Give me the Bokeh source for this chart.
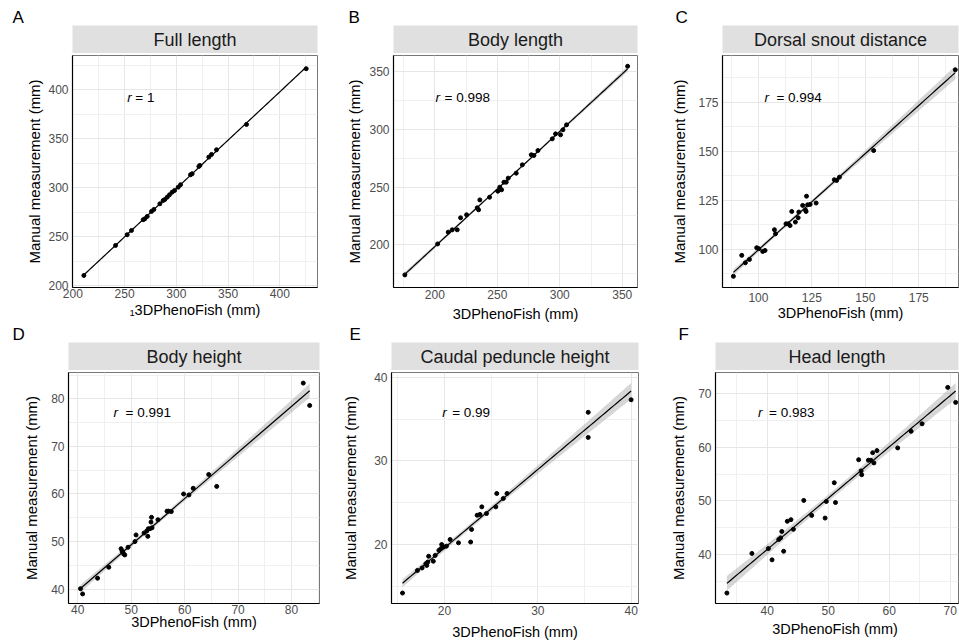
import numpy as np
from bokeh.plotting import figure
from bokeh.layouts import column, row
from bokeh.models import FixedTicker, Range1d, Label
from bokeh.core.properties import value
from bokeh.embed import file_html
from bokeh.resources import INLINE

FONT = "Liberation Sans"

# ---------------- data ----------------
panel_letters = ["A", "B", "C", "D", "E", "F"]
panel_titles = ["Full length", "Body length", "Dorsal snout distance",
                "Body height", "Caudal peduncle height", "Head length"]
r_values = ["1", "0.998", "0.994", "0.991", "0.99", "0.983"]
x_titles = ["\u20813DPhenoFish (mm)", "3DPhenoFish (mm)", "3DPhenoFish (mm)",
            "3DPhenoFish (mm)", "3DPhenoFish (mm)", "3DPhenoFish  (mm)"]
y_title = "Manual measurement (mm)"

full_x = [210.7, 241.3, 252.5, 256.7, 268.0, 269.6, 271.9, 276.0, 278.3, 284.1, 287.3, 288.9,
          291.2, 293.4, 296.0, 298.3, 301.8, 304.1, 313.7, 315.3, 321.8, 322.7, 331.4, 334.0,
          338.8, 367.8, 425.5]
full_y = [210.3, 241.0, 251.9, 256.3, 267.2, 268.2, 270.6, 275.7, 277.7, 283.5, 286.9, 287.9,
          290.3, 292.7, 295.4, 297.1, 300.5, 303.0, 313.2, 314.2, 321.7, 322.7, 331.2, 333.9,
          338.7, 364.6, 421.5]

body_x = [176.0, 202.2, 210.7, 213.9, 217.9, 220.6, 225.4, 233.9, 235.0, 236.0, 243.8, 250.4,
          252.0, 253.4, 255.3, 257.1, 258.7, 265.1, 270.0, 277.2, 279.3, 282.5, 294.0, 296.6,
          300.6, 302.5, 305.4, 354.3]
body_y = [174.0, 200.8, 211.0, 213.0, 213.0, 223.4, 226.0, 232.0, 230.3, 238.9, 241.2, 246.4,
          249.9, 247.6, 254.2, 254.2, 257.7, 262.0, 269.2, 277.9, 277.3, 281.6, 291.7, 296.0,
          295.2, 299.5, 303.8, 354.5]

snout_x = [88.3, 92.2, 93.9, 95.8, 99.2, 100.2, 102.0, 103.1, 107.5, 108.0, 112.9, 114.0,
           114.8, 115.6, 117.3, 118.6, 118.9, 120.7, 122.0, 122.3, 122.5, 123.0, 124.2, 127.0,
           135.5, 136.6, 137.9, 153.9, 192.1]
snout_y = [86.1, 96.8, 93.0, 94.7, 100.7, 100.2, 98.8, 99.3, 109.9, 107.8, 112.9, 112.9,
           112.0, 119.2, 113.8, 116.0, 118.9, 122.3, 120.0, 119.2, 127.0, 122.6, 122.8, 123.5,
           135.4, 135.0, 136.7, 150.3, 191.5]

height_x = [40.5, 40.9, 43.7, 45.8, 48.1, 48.3, 48.4, 48.6, 48.8, 49.4, 50.7, 50.9, 52.4, 52.9,
            53.1, 53.2, 53.5, 53.7, 53.8, 53.9, 55.0, 56.7, 57.0, 57.5, 59.8, 60.8, 61.6, 64.5,
            66.0, 82.2, 83.4]
height_y = [40.1, 39.0, 42.3, 44.6, 48.5, 48.0, 47.8, 47.4, 47.2, 48.8, 50.0, 51.4, 51.8, 52.2,
            51.1, 52.7, 52.7, 54.1, 55.1, 52.9, 54.6, 56.4, 56.4, 56.3, 60.0, 59.8, 61.2, 64.1,
            61.6, 83.3, 78.6]

caudal_x = [15.5, 17.1, 17.6, 18.0, 18.1, 18.3, 18.2, 18.8, 19.0, 19.4, 19.6, 19.7, 19.9, 20.2,
            20.6, 21.5, 22.8, 22.9, 23.5, 23.8, 24.0, 24.5, 25.5, 25.6, 26.3, 26.7, 35.4, 35.4,
            40.0]
caudal_y = [14.2, 16.9, 17.2, 17.7, 17.5, 18.6, 17.9, 18.0, 18.7, 19.3, 19.5, 20.0, 19.7, 19.8,
            20.6, 20.2, 20.3, 21.8, 23.5, 23.6, 24.5, 23.7, 24.5, 26.1, 25.5, 26.1, 35.8, 32.8,
            37.3]

head_x = [33.4, 37.5, 40.2, 40.8, 41.9, 42.2, 42.4, 42.7, 43.3, 43.9, 44.3, 46.0, 47.3, 49.5,
          49.7, 51.0, 51.2, 55.0, 55.4, 55.5, 56.6, 57.0, 57.3, 57.5, 58.0, 61.4, 63.6, 65.4,
          69.6, 70.9]
head_y = [32.8, 40.2, 41.1, 39.0, 42.8, 43.1, 44.3, 40.6, 46.2, 46.5, 44.7, 50.1, 47.3, 46.8,
          49.9, 53.4, 49.7, 57.7, 55.6, 54.9, 57.6, 57.6, 59.0, 57.1, 59.4, 59.9, 63.0, 64.4,
          71.2, 68.4]

series_x = [full_x, body_x, snout_x, height_x, caudal_x, head_x]
series_y = [full_y, body_y, snout_y, height_y, caudal_y, head_y]

x_ticks = [[200, 250, 300, 350, 400], [200, 250, 300, 350], [100, 125, 150, 175],
           [40, 50, 60, 70, 80], [20, 30, 40], [40, 50, 60, 70]]
y_ticks = [[200, 250, 300, 350, 400], [200, 250, 300, 350], [100, 125, 150, 175],
           [40, 50, 60, 70, 80], [20, 30, 40], [40, 50, 60, 70]]
x_minor = [[225, 275, 325, 375, 425], [175, 225, 275, 325], [87.5, 112.5, 137.5, 162.5, 187.5],
           [45, 55, 65, 75, 85], [15, 25, 35], [35, 45, 55, 65]]
y_minor = [[225, 275, 325, 375, 425], [175, 225, 275, 325], [87.5, 112.5, 137.5, 162.5, 187.5],
           [45, 55, 65, 75, 85], [15, 25, 35], [35, 45, 55, 65, 75]]

# ---------------- layout / style (not data) ----------------
x_ranges = [(199.7, 436.4), (166.9, 362.2), (83.2, 193.6), (38.26, 85.24), (14.32, 40.79), (31.53, 71.37)]
y_ranges = [(198.0, 435.0), (163.1, 363.8), (80.4, 198.8), (36.99, 85.53), (12.95, 40.56), (30.85, 73.98)]
r_pos = [(252.6, 392.4), (200.6, 327.7), (102.8, 177.5), (46.7, 77.2), (19.75, 35.8), (38.5, 66.6)]
r_gap = [8, 9, 12, 12, 10, 11]
cell_w = [320, 319, 320, 320, 319, 320]
frame_l = [72, 73, 83, 68, 71, 76]
frame_r = [3, 2, 1, 1, 1, 1]
letter_x = [12, 28, 36, 12, 29, 39]
xlab_standoff = [0, 1, 4, 0, 1, 1]
xtitle_standoff = [1, 4, 0, -3, 6, 3]
ytitle_standoff = [2, 3, 7, 8, 12, 8]

strip_h = [53, 46]       # strip figure heights (row 1, row 2)
strip_top = [25, 18]     # space above the grey strip
main_h = [271, 273]
main_bottom = [37, 40]


def fit(x, y):
    x = np.asarray(x, float)
    y = np.asarray(y, float)
    n = len(x)
    b, a = np.polyfit(x, y, 1)
    xs = np.linspace(x.min(), x.max(), 80)
    yhat = a + b * xs
    resid = y - (a + b * x)
    s = np.sqrt(np.sum(resid ** 2) / (n - 2))
    sxx = np.sum((x - x.mean()) ** 2)
    se = s * np.sqrt(1.0 / n + (xs - x.mean()) ** 2 / sxx)
    nu = n - 2
    z = 1.959964
    t = z + (z ** 3 + z) / (4 * nu) + (5 * z ** 5 + 16 * z ** 3 + 3 * z) / (96 * nu ** 2)
    return xs, yhat, yhat - t * se, yhat + t * se


panels = []
for i in range(6):
    r_i = 0 if i < 3 else 1
    w = cell_w[i]
    s = figure(width=w, height=strip_h[r_i], x_range=Range1d(0, 1), y_range=Range1d(0, 1),
               title=panel_letters[i],
               toolbar_location=None, output_backend="svg", x_axis_location=None,
               y_axis_location=None, min_border_left=frame_l[i], min_border_right=frame_r[i],
               min_border_top=strip_top[r_i], min_border_bottom=0)
    s.title.align = "left"
    s.title.offset = letter_x[i] - frame_l[i]
    s.title.standoff = -3
    s.title.text_font = FONT
    s.title.text_font_size = "17px"
    s.title.text_font_style = "normal"
    s.title.text_color = "black"
    s.grid.visible = False
    s.background_fill_color = "#e0e0e0"
    s.outline_line_color = None
    s.border_fill_color = "white"
    s.text(x=[0.5], y=[0.47], text=[panel_titles[i]], text_align="center", text_baseline="middle",
           text_font=value(FONT), text_font_size="18px", text_color="#1a1a1a")

    p = figure(width=w, height=main_h[r_i], x_range=Range1d(*x_ranges[i]),
               y_range=Range1d(*y_ranges[i]), toolbar_location=None, output_backend="svg",
               min_border_left=frame_l[i], min_border_right=frame_r[i], min_border_top=2,
               min_border_bottom=main_bottom[r_i])
    p.outline_line_color = "#777777"
    p.background_fill_color = "white"
    p.xaxis.ticker = FixedTicker(ticks=x_ticks[i], minor_ticks=x_minor[i])
    p.yaxis.ticker = FixedTicker(ticks=y_ticks[i], minor_ticks=y_minor[i])
    p.xaxis.axis_label = x_titles[i]
    p.yaxis.axis_label = y_title
    for ax in (p.xaxis, p.yaxis):
        ax.axis_line_color = "black"
        ax.axis_line_width = 1.2
        ax.major_tick_line_color = None
        ax.minor_tick_line_color = None
        ax.major_tick_in = 0
        ax.major_tick_out = 1
        ax.minor_tick_in = 0
        ax.minor_tick_out = 0
        ax.major_label_text_font = FONT
        ax.major_label_text_font_size = "12px"
        ax.major_label_text_color = "#4d4d4d"
        ax.axis_label_text_font = FONT
        ax.axis_label_text_font_style = "normal"
        ax.axis_label_text_color = "black"
    p.xaxis.axis_label_text_font_size = "14.5px"
    p.yaxis.axis_label_text_font_size = "15px"
    p.xaxis.major_label_standoff = xlab_standoff[i]
    p.xaxis.axis_label_standoff = xtitle_standoff[i]
    p.yaxis.major_label_standoff = 3
    p.yaxis.axis_label_standoff = ytitle_standoff[i]
    p.grid.grid_line_color = "#e6e6e6"
    p.grid.grid_line_width = 1
    p.grid.minor_grid_line_color = "#f0f0f0"
    p.grid.minor_grid_line_width = 1

    xs, yhat, lo, hi = fit(series_x[i], series_y[i])
    p.varea(x=xs, y1=lo, y2=hi, fill_color="#999999", fill_alpha=0.4)
    p.line(x=xs, y=yhat, line_color="black", line_width=1.2)
    p.scatter(x=series_x[i], y=series_y[i], size=4, color="black")

    rx, ry = r_pos[i]
    p.add_layout(Label(x=rx, y=ry, text="r", text_font=FONT, text_font_size="13.5px",
                       text_font_style="italic", text_baseline="middle", text_color="black"))
    p.add_layout(Label(x=rx, y=ry, x_offset=r_gap[i], text="= " + r_values[i],
                       text_font=FONT, text_font_size="13.5px", text_baseline="middle",
                       text_color="black"))
    panels.append(column(s, p))

layout = column(row(*panels[:3]), row(*panels[3:]))
open("out.html", "w").write(file_html(layout, INLINE))
